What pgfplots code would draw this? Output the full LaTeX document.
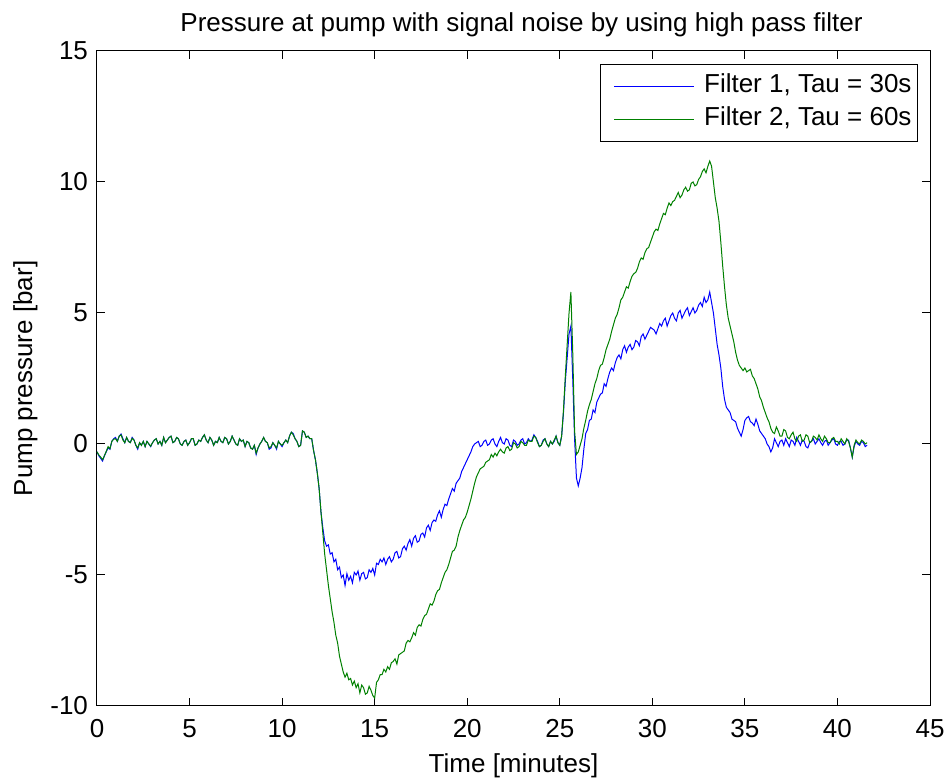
\documentclass[border=0pt]{standalone}
\usepackage{pgfplots}
\pgfplotsset{compat=1.18}
\usepackage{pgfplotstable}
\usepackage{fontspec}
\setmainfont{Liberation Sans}
\pgfplotstableread{
x b g
0.0 -0.30 -0.30
0.1 -0.45 -0.42
0.2 -0.55 -0.50
0.3 -0.65 -0.60
0.4 -0.45 -0.45
0.5 -0.30 -0.28
0.6 -0.15 -0.10
0.7 -0.20 -0.18
0.8 0.10 0.10
0.9 0.20 0.18
1.0 0.25 0.20
1.1 0.10 0.10
1.2 0.30 0.30
1.3 0.38 0.35
1.4 0.20 0.15
1.5 0.05 0.05
1.6 0.25 0.25
1.7 0.10 0.10
1.8 0.05 0.05
1.9 0.25 0.22
2.0 0.15 0.15
2.1 -0.05 -0.05
2.2 -0.20 -0.15
2.3 0.05 0.05
2.4 -0.05 -0.05
2.5 0.10 0.10
2.6 -0.10 -0.10
2.7 0.10 0.10
2.8 0.00 0.00
2.9 -0.10 -0.08
3.0 0.05 0.05
3.1 0.15 0.15
3.2 0.20 0.20
3.3 0.00 0.00
3.4 0.10 0.10
3.5 -0.05 -0.05
3.6 0.25 0.25
3.7 0.05 0.05
3.8 0.15 0.15
3.9 0.25 0.25
4.0 0.30 0.30
4.1 0.05 0.05
4.2 0.10 0.10
4.3 0.25 0.25
4.4 0.20 0.20
4.5 0.00 0.00
4.6 -0.05 -0.05
4.7 0.10 0.10
4.8 0.15 0.15
4.9 -0.05 -0.05
5.0 0.05 0.05
5.1 0.20 0.20
5.2 0.20 0.20
5.3 -0.05 -0.05
5.4 0.00 0.00
5.5 0.15 0.15
5.6 0.10 0.10
5.7 0.25 0.25
5.8 0.35 0.35
5.9 0.15 0.15
6.0 0.05 0.05
6.1 0.25 0.25
6.2 0.15 0.15
6.3 -0.05 -0.05
6.4 0.10 0.10
6.5 0.05 0.05
6.6 0.25 0.25
6.7 0.10 0.10
6.8 0.05 0.05
6.9 0.25 0.25
7.0 0.20 0.20
7.1 0.00 0.00
7.2 0.10 0.10
7.3 0.30 0.30
7.4 0.15 0.15
7.5 0.00 0.00
7.6 -0.05 -0.05
7.7 0.20 0.20
7.8 0.10 0.10
7.9 0.15 0.15
8.0 -0.10 -0.10
8.1 0.10 0.10
8.2 0.05 0.05
8.3 -0.15 -0.15
8.4 -0.20 -0.20
8.5 -0.05 -0.05
8.6 -0.40 -0.35
8.7 -0.15 -0.15
8.8 0.00 0.00
8.9 0.10 0.10
9.0 0.25 0.25
9.1 0.10 0.10
9.2 0.05 0.05
9.3 -0.20 -0.15
9.4 -0.15 -0.10
9.5 0.05 0.05
9.6 -0.05 -0.05
9.7 -0.20 -0.15
9.8 0.10 0.10
9.9 0.00 0.00
10.0 -0.10 -0.05
10.1 0.05 0.05
10.2 0.15 0.15
10.3 0.05 0.05
10.4 0.30 0.30
10.5 0.45 0.45
10.6 0.40 0.35
10.7 0.20 0.20
10.8 0.10 0.10
10.9 -0.10 -0.10
11.0 -0.05 -0.05
11.1 0.50 0.50
11.2 0.45 0.45
11.3 0.25 0.25
11.4 0.30 0.30
11.5 0.20 0.20
11.6 0.20 0.20
11.7 -0.25 -0.25
11.8 -0.60 -0.60
11.9 -1.10 -1.10
12.0 -1.70 -1.70
12.1 -2.60 -2.60
12.2 -3.20 -3.40
12.3 -3.70 -4.20
12.4 -3.90 -4.80
12.5 -3.85 -5.40
12.6 -4.20 -5.90
12.7 -4.15 -6.40
12.8 -4.50 -6.80
12.9 -4.40 -7.30
13.0 -4.80 -7.60
13.1 -4.70 -8.10
13.2 -5.10 -8.40
13.3 -5.00 -8.70
13.4 -5.40 -8.90
13.5 -4.95 -8.75
13.6 -5.20 -9.00
13.7 -5.05 -8.95
13.8 -5.30 -9.20
13.9 -4.90 -9.05
14.0 -5.00 -9.30
14.1 -4.85 -9.15
14.2 -5.20 -9.50
14.3 -4.95 -9.20
14.4 -4.90 -9.30
14.5 -5.15 -9.55
14.6 -5.10 -9.50
14.7 -4.80 -9.25
14.8 -4.90 -9.40
14.9 -4.75 -9.60
15.0 -5.00 -9.70
15.1 -4.55 -9.10
15.2 -4.60 -9.00
15.3 -4.40 -8.80
15.4 -4.50 -8.80
15.5 -4.35 -8.60
15.6 -4.60 -8.70
15.7 -4.40 -8.50
15.8 -4.30 -8.60
15.9 -4.50 -8.35
16.0 -4.40 -8.30
16.1 -4.15 -8.20
16.2 -4.10 -8.40
16.3 -4.35 -8.05
16.4 -4.30 -8.00
16.5 -4.00 -7.95
16.6 -3.90 -7.90
16.7 -4.05 -7.60
16.8 -3.80 -7.50
16.9 -3.65 -7.55
17.0 -3.90 -7.40
17.1 -3.60 -7.20
17.2 -3.50 -7.30
17.3 -3.75 -7.00
17.4 -3.70 -6.90
17.5 -3.45 -6.95
17.6 -3.40 -6.70
17.7 -3.55 -6.55
17.8 -3.20 -6.50
17.9 -3.10 -6.30
18.0 -3.30 -6.10
18.1 -3.00 -6.15
18.2 -2.90 -6.00
18.3 -2.95 -5.75
18.4 -2.70 -5.60
18.5 -2.55 -5.55
18.6 -2.80 -5.30
18.7 -2.50 -5.10
18.8 -2.30 -4.90
18.9 -2.35 -4.80
19.0 -2.10 -4.60
19.1 -1.90 -4.35
19.2 -1.70 -4.10
19.3 -1.80 -4.05
19.4 -1.50 -3.90
19.5 -1.40 -3.55
19.6 -1.30 -3.30
19.7 -1.05 -3.10
19.8 -0.90 -2.90
19.9 -0.75 -2.80
20.0 -0.60 -2.60
20.1 -0.45 -2.35
20.2 -0.30 -2.10
20.3 -0.10 -1.80
20.4 0.00 -1.50
20.5 0.05 -1.25
20.6 0.10 -1.10
20.7 -0.10 -0.95
20.8 -0.05 -0.90
20.9 0.10 -0.85
21.0 0.15 -0.70
21.1 -0.05 -0.65
21.2 0.00 -0.60
21.3 0.15 -0.40
21.4 0.20 -0.50
21.5 0.00 -0.35
21.6 -0.10 -0.45
21.7 0.10 -0.30
21.8 0.25 -0.20
21.9 0.05 -0.30
22.0 0.00 -0.35
22.1 0.20 -0.15
22.2 0.15 -0.10
22.3 -0.05 -0.25
22.4 -0.10 -0.20
22.5 0.15 0.05
22.6 0.10 0.00
22.7 -0.05 -0.15
22.8 0.00 -0.10
22.9 0.15 0.10
23.0 0.20 0.05
23.1 0.00 -0.05
23.2 0.05 -0.05
23.3 0.20 0.15
23.4 0.10 0.10
23.5 0.15 0.10
23.6 0.35 0.30
23.7 0.25 0.25
23.8 0.10 0.05
23.9 -0.10 -0.10
24.0 -0.05 -0.05
24.1 0.15 0.10
24.2 0.20 0.20
24.3 0.00 0.00
24.4 -0.10 -0.10
24.5 0.10 0.10
24.6 0.00 0.00
24.7 0.10 0.15
24.8 0.30 0.30
24.9 0.05 0.05
25.0 -0.05 -0.05
25.1 0.30 0.30
25.2 1.20 1.30
25.3 2.40 2.60
25.4 3.30 3.80
25.5 4.20 5.00
25.6 4.50 5.80
25.7 2.50 3.50
25.8 0.20 0.50
25.9 -1.30 -0.40
26.0 -1.60 -0.30
26.1 -1.30 -0.05
26.2 -0.90 0.20
26.3 -0.20 0.60
26.4 0.40 0.90
26.5 0.55 1.25
26.6 0.90 1.50
26.7 0.95 1.70
26.8 1.30 2.00
26.9 1.20 2.30
27.0 1.60 2.50
27.1 1.75 2.80
27.2 1.90 3.00
27.3 1.95 3.05
27.4 2.30 3.30
27.5 2.20 3.60
27.6 2.50 3.80
27.7 2.75 4.00
27.8 2.90 4.30
27.9 2.80 4.55
28.0 3.10 4.80
28.1 3.30 4.95
28.2 3.40 5.20
28.3 3.25 5.50
28.4 3.60 5.60
28.5 3.75 5.80
28.6 3.50 6.00
28.7 3.70 5.95
28.8 3.80 6.20
28.9 3.60 6.40
29.0 3.70 6.50
29.1 3.95 6.55
29.2 3.90 6.70
29.3 3.75 6.95
29.4 4.10 7.10
29.5 4.20 7.05
29.6 4.00 7.30
29.7 4.15 7.45
29.8 4.30 7.50
29.9 4.45 7.70
30.0 4.40 7.90
30.1 4.35 8.10
30.2 4.20 8.20
30.3 4.40 8.15
30.4 4.60 8.40
30.5 4.50 8.60
30.6 4.70 8.80
30.7 4.80 8.75
30.8 4.50 9.00
30.9 4.70 9.20
31.0 4.90 9.10
31.1 5.00 9.25
31.2 4.80 9.30
31.3 4.70 9.45
31.4 5.00 9.60
31.5 5.10 9.40
31.6 4.80 9.50
31.7 4.95 9.70
31.8 5.10 9.80
31.9 5.20 9.65
32.0 4.90 9.70
32.1 5.05 9.95
32.2 5.20 10.00
32.3 5.00 9.85
32.4 5.10 9.90
32.5 5.30 10.10
32.6 5.40 10.20
32.7 5.25 10.40
32.8 5.60 10.50
32.9 5.40 10.35
33.0 5.50 10.60
33.1 5.80 10.80
33.2 5.40 10.60
33.3 5.00 10.00
33.4 4.40 9.40
33.5 3.80 9.00
33.6 3.40 8.50
33.7 2.90 7.70
33.8 2.20 6.80
33.9 1.70 6.00
34.0 1.40 5.30
34.1 1.30 4.80
34.2 1.20 4.50
34.3 0.95 4.20
34.4 0.90 3.90
34.5 0.85 3.50
34.6 0.60 3.20
34.7 0.45 3.00
34.8 0.30 2.90
34.9 0.55 2.80
35.0 0.90 2.90
35.1 1.00 2.75
35.2 1.05 2.80
35.3 0.85 2.85
35.4 0.80 2.60
35.5 0.70 2.50
35.6 0.95 2.30
35.7 0.75 2.10
35.8 0.50 1.80
35.9 0.40 1.65
36.0 0.30 1.40
36.1 0.20 1.20
36.2 0.00 1.00
36.3 -0.10 0.85
36.4 -0.30 0.60
36.5 -0.15 0.45
36.6 0.20 0.40
36.7 0.05 0.65
36.8 -0.10 0.50
36.9 0.10 0.30
37.0 0.15 0.30
37.1 -0.05 0.55
37.2 0.20 0.50
37.3 0.05 0.25
37.4 -0.10 0.20
37.5 0.15 0.35
37.6 0.10 0.45
37.7 -0.05 0.20
37.8 0.25 0.10
37.9 0.10 0.30
38.0 -0.05 0.35
38.1 0.15 0.10
38.2 0.10 0.15
38.3 -0.10 0.35
38.4 -0.15 0.30
38.5 0.05 0.05
38.6 0.10 0.10
38.7 0.20 0.30
38.8 0.00 0.25
38.9 0.10 0.15
39.0 0.20 0.35
39.1 0.05 0.20
39.2 -0.05 0.10
39.3 0.10 0.30
39.4 0.15 0.20
39.5 -0.05 0.05
39.6 0.05 0.05
39.7 0.15 0.20
39.8 0.20 0.25
39.9 0.00 0.10
40.0 -0.05 0.10
40.1 0.10 0.00
40.2 0.10 0.20
40.3 -0.05 0.10
40.4 0.00 0.00
40.5 0.15 0.20
40.6 0.15 0.10
40.7 -0.15 -0.15
40.8 -0.50 -0.50
40.9 -0.10 -0.05
41.0 0.10 0.15
41.1 0.00 0.05
41.2 -0.05 0.00
41.3 0.10 0.15
41.4 0.05 0.10
41.5 -0.10 0.00
41.6 -0.05 0.05
}\pumpdata
\begin{document}
\fontsize{13}{15.6}\selectfont
\begin{tikzpicture}
\begin{axis}[
  name=ax,
  width=416.5pt, height=327.5pt,
  scale only axis,
  xmin=0, xmax=45, ymin=-10, ymax=15,
  xtick={0,5,...,45}, ytick={-10,-5,0,5,10,15},
  tick align=inside, tick pos=both,
  major tick length=4pt,
  axis line style={line width=0.5pt},
  tick style={line width=0.5pt, black},
  /pgf/number format/assume math mode=true,
  ticklabel style={font=\fontsize{13}{15.6}\selectfont},
  xticklabel style={yshift=-2.3pt},
  label style={font=\fontsize{13}{15.6}\selectfont},
  title style={font=\fontsize{13}{15.6}\selectfont},
  title={Pressure at pump with signal noise by using high pass filter},
  every axis title/.style={at={(axis description cs:0.5,1.029)}, anchor=base, xshift=4pt},
  xlabel={Time [minutes]},
  every axis x label/.style={at={(axis description cs:0.5,-0.1008)}, anchor=base},
  ylabel={Pump pressure [bar]},
  every axis y label/.style={at={(axis description cs:-0.078,0.5)}, anchor=base, rotate=90},
  legend style={at={(axis description cs:1,1)}, anchor=north east,
    xshift=-6pt, yshift=-6.5pt,
    draw=black, line width=0.5pt, inner xsep=2pt, inner ysep=3.75pt,
    font=\fontsize{13}{15.6}\selectfont,
    nodes={inner sep=1pt, text height=9.5pt, text depth=3pt},
    row sep=2pt, cells={anchor=west}},
  legend image code/.code={\path[draw=none] (0pt,0pt) -- (49pt,0pt); \draw[#1, line width=0.4pt] (5pt,0pt) -- (45pt,0pt);},
]
\addplot[blue, line width=0.5pt] table[x=x, y=b] {\pumpdata};
\addlegendentry{Filter 1, Tau = 30s}
\addplot[green!50!black, line width=0.5pt] table[x=x, y=g] {\pumpdata};
\addlegendentry{Filter 2, Tau = 60s}
\end{axis}
\pgfresetboundingbox
\path ([shift={(-48.5pt,-39pt)}]ax.south west) rectangle ([shift={(10.5pt,25.5pt)}]ax.north east);
\end{tikzpicture}
\end{document}
